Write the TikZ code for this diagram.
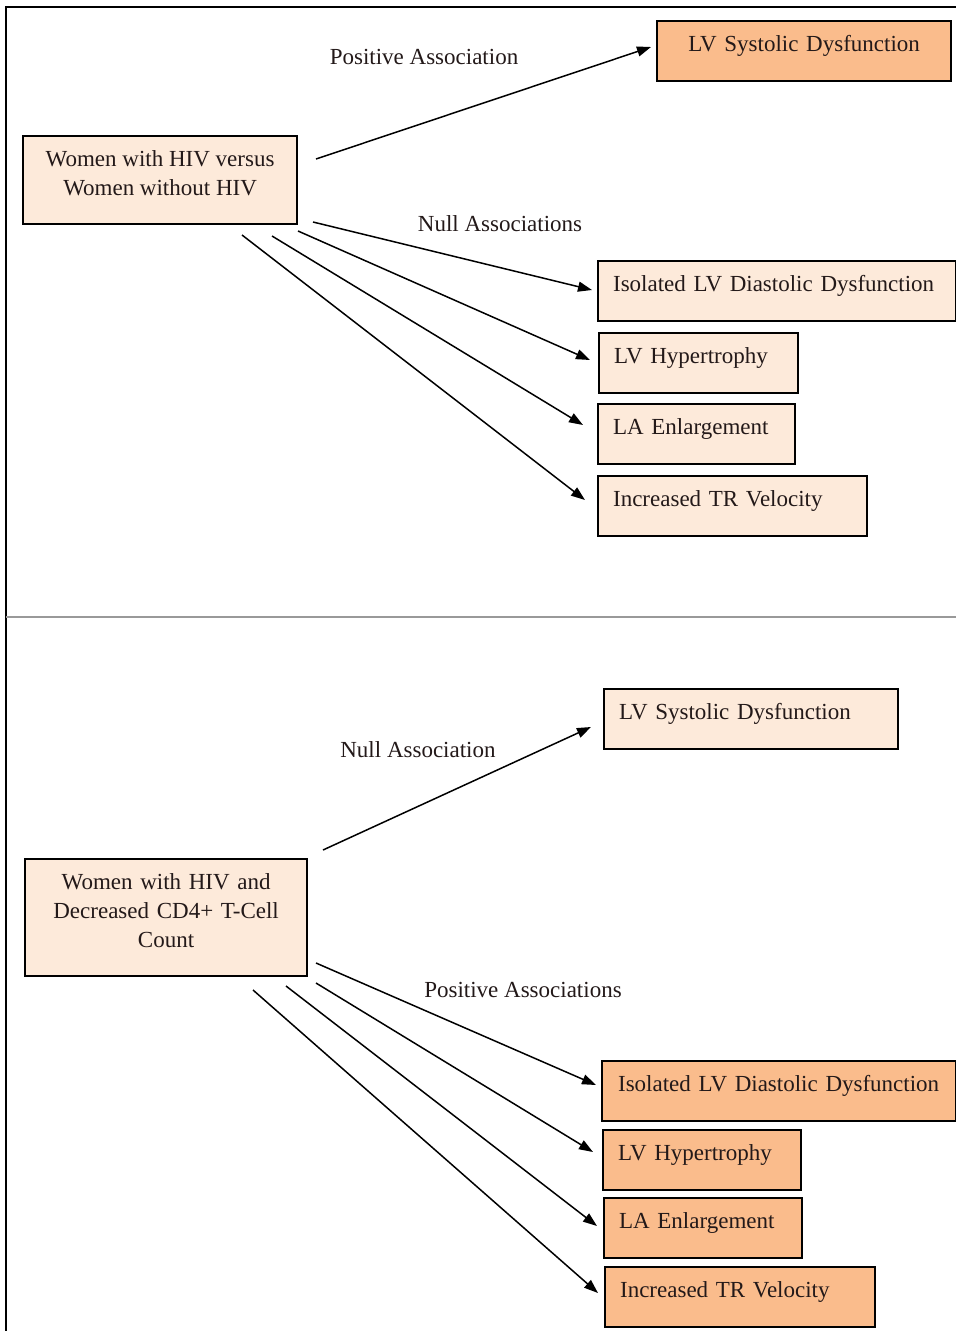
\documentclass[tikz,border=0pt]{standalone}
\usepackage{fontspec}
\setmainfont{Liberation Serif}
\usetikzlibrary{arrows.meta}
\definecolor{darkpeach}{RGB}{250,188,140}
\definecolor{lightpeach}{RGB}{253,234,218}
\definecolor{txt}{RGB}{35,25,25}
\begin{document}
\begin{tikzpicture}[x=1pt,y=-1pt,
  font=\fontsize{23}{29}\selectfont,
  box/.style={draw=black,line width=2.2pt,text=txt,inner ysep=0pt,inner xsep=0pt,
     anchor=north west,minimum height=60pt,text height=18pt,text depth=18pt,align=left},
  srcbox/.style={draw=black,line width=2.2pt,text=txt,fill=lightpeach,anchor=north west,
     align=center,inner sep=0pt},
  lbl/.style={text=txt,inner sep=0pt},
  arr/.style={line width=1.5pt,-{Triangle[length=14pt,width=10pt]}}]
\useasboundingbox (0,0) rectangle (956,1331);
\fill[white] (0,0) rectangle (956,1331);
% frame
\coordinate (f1) at (956,7);
\coordinate (f2) at (6,7);
\coordinate (f3) at (6,1331);
\coordinate (d1) at (6,617);
\coordinate (d2) at (956,617);
\draw[line width=1.2pt] (f1) -- (f2) -- (f3);
\draw[line width=1.6pt,gray!80] (d1) -- (d2);

% ---- top panel ----
\node[box,fill=darkpeach,minimum width=294pt,text width=294pt,align=center] (sys1) at (656,20) {LV Systolic Dysfunction};
\node[srcbox,minimum width=274pt,minimum height=88pt] (src1) at (22,135) {Women with HIV versus\\Women without HIV\rule[-14pt]{0pt}{0pt}};
\node[box,fill=lightpeach,minimum width=358pt,text width=328pt] (dia1) at (597,260) {Isolated LV Diastolic Dysfunction};
\node[box,fill=lightpeach,minimum width=199pt,text width=169pt] (hyp1) at (598,332) {LV Hypertrophy};
\node[box,fill=lightpeach,minimum width=197pt,text width=167pt] (la1) at (597,403) {LA Enlargement};
\node[box,fill=lightpeach,minimum width=269pt,text width=239pt] (tr1) at (597,475) {Increased TR Velocity};

\node[lbl] (pa1) at (424,57) {Positive Association};
\node[lbl] (na1) at (500,224) {Null Associations};

\coordinate (s1a) at (316,159); \coordinate (e1a) at (651,47);
\coordinate (s1b) at (313,222); \coordinate (e1b) at (592,290);
\coordinate (s1c) at (298,231); \coordinate (e1c) at (590,360);
\coordinate (s1d) at (272,236); \coordinate (e1d) at (583,425);
\coordinate (s1e) at (242,235); \coordinate (e1e) at (585,500);
\draw[arr] (s1a) -- (e1a);
\draw[arr] (s1b) -- (e1b);
\draw[arr] (s1c) -- (e1c);
\draw[arr] (s1d) -- (e1d);
\draw[arr] (s1e) -- (e1e);

% ---- bottom panel ----
\node[box,fill=lightpeach,minimum width=294pt,text width=264pt] (sys2) at (603,688) {LV Systolic Dysfunction};
\node[srcbox,minimum width=282pt,minimum height=117pt,text width=270pt] (src2) at (24,858) {Women with HIV and\\Decreased CD4+ T-Cell\\Count\rule[-14pt]{0pt}{0pt}};
\node[box,fill=darkpeach,minimum width=354pt,text width=322pt] (dia2) at (601,1060) {Isolated LV Diastolic Dysfunction};
\node[box,fill=darkpeach,minimum width=198pt,text width=168pt] (hyp2) at (602,1129) {LV Hypertrophy};
\node[box,fill=darkpeach,minimum width=198pt,text width=168pt] (la2) at (603,1197) {LA Enlargement};
\node[box,fill=darkpeach,minimum width=270pt,text width=240pt] (tr2) at (604,1266) {Increased TR Velocity};

\node[lbl] (na2) at (418,750) {Null Association};
\node[lbl] (pa2) at (523,990) {Positive Associations};

\coordinate (s2a) at (323,850); \coordinate (e2a) at (591,727);
\coordinate (s2b) at (316,963); \coordinate (e2b) at (596,1085);
\coordinate (s2c) at (316,983); \coordinate (e2c) at (593,1152);
\coordinate (s2d) at (286,986); \coordinate (e2d) at (597,1226);
\coordinate (s2e) at (253,990); \coordinate (e2e) at (598,1293);
\draw[arr] (s2a) -- (e2a);
\draw[arr] (s2b) -- (e2b);
\draw[arr] (s2c) -- (e2c);
\draw[arr] (s2d) -- (e2d);
\draw[arr] (s2e) -- (e2e);
\end{tikzpicture}
\end{document}
